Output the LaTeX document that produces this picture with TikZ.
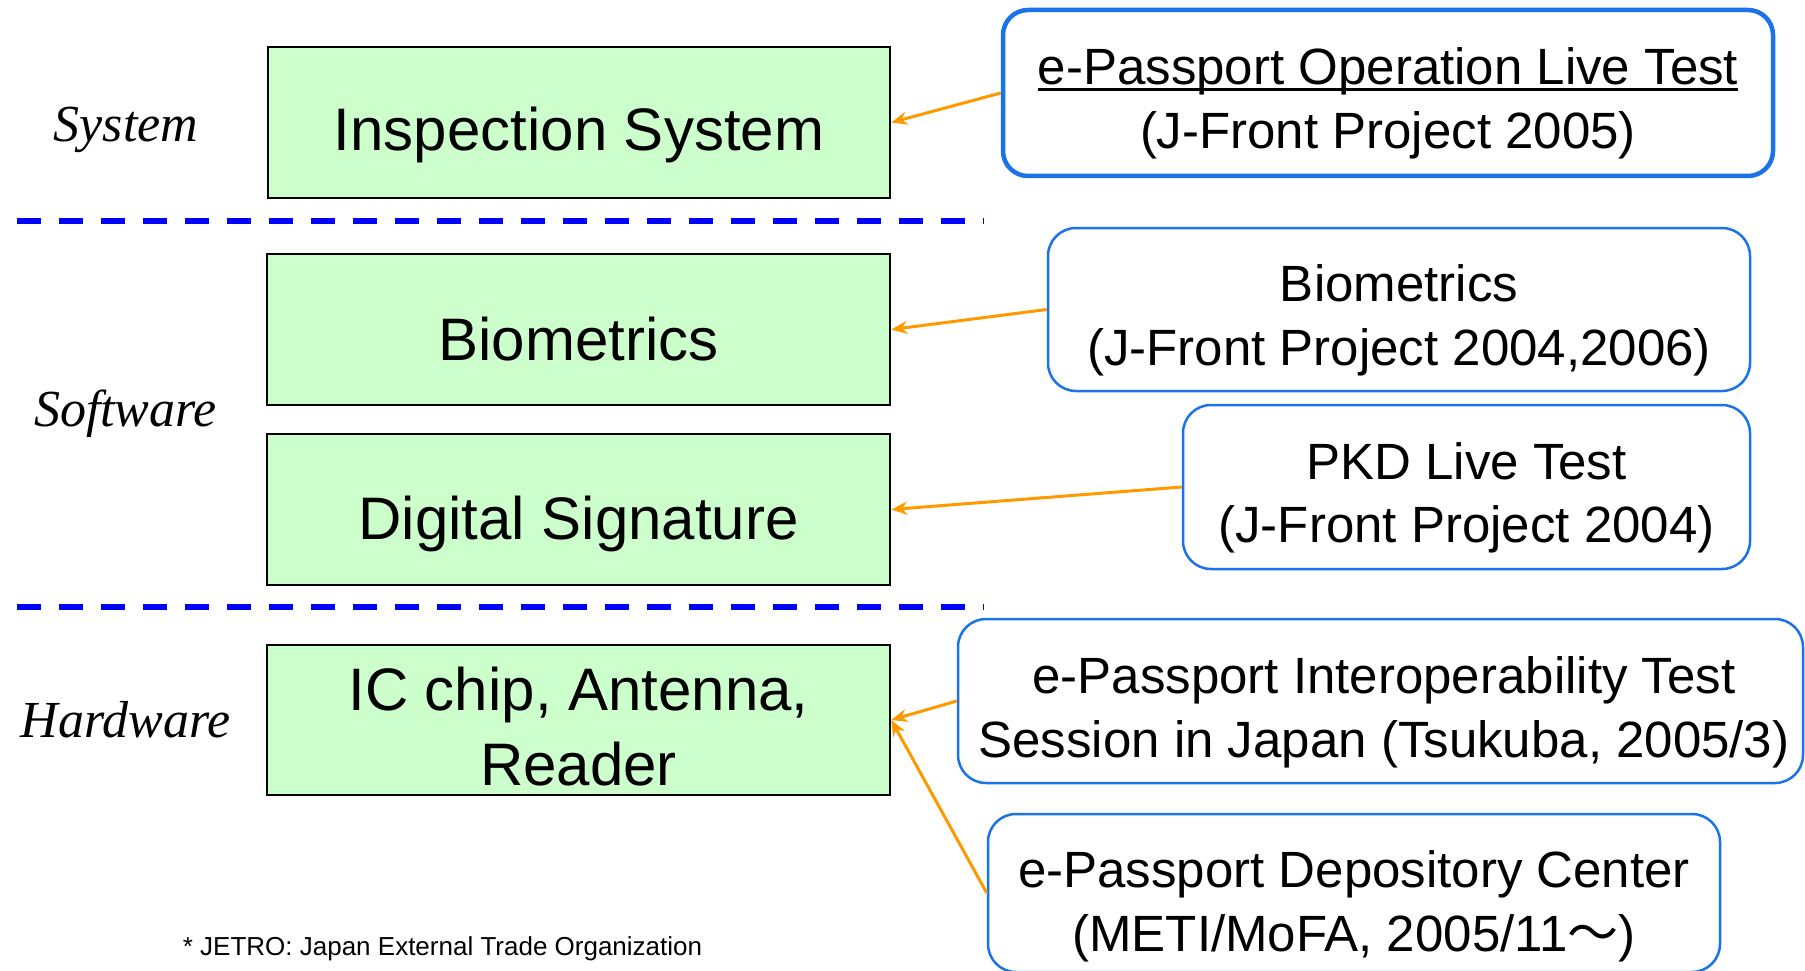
\documentclass[tikz,border=0pt]{standalone}
\usepackage{fontspec}
\setmainfont{Liberation Sans}
\newfontfamily\labelfont{Liberation Serif}
\newfontfamily\cjkfont{Noto Sans CJK JP}
\usetikzlibrary{arrows.meta}
\definecolor{gfill}{RGB}{204,255,204}
\definecolor{rblue}{RGB}{26,115,232}
\definecolor{dblue}{RGB}{0,0,255}
\definecolor{aorange}{RGB}{255,153,0}
\newcommand\ulline[1]{\setbox0\hbox{#1}\rlap{\rule[-6.5pt]{\wd0}{3pt}}\box0}
\begin{document}
\begin{tikzpicture}[x=1pt,y=-1pt,
 gbox/.style={draw=black, line width=2.5pt, fill=gfill, inner sep=0pt},
 gtext/.style={font=\fontsize{60}{75}\selectfont, inner sep=0pt, align=center},
 rbox/.style={draw=rblue, line width=2.5pt, fill=white, rounded corners=28pt, inner sep=0pt},
 rtext/.style={font=\fontsize{51}{63.5}\selectfont, inner sep=0pt, align=center},
 lab/.style={font=\fontsize{52}{60}\selectfont\labelfont\itshape, inner sep=0pt, anchor=base},
 sep/.style={draw=dblue, line width=6pt, dash pattern=on 24pt off 18pt},
 conn/.style={draw=aorange, line width=3pt, -{Stealth[length=16pt,width=13pt]}},
]
\useasboundingbox[fill=white] (0,0) rectangle (1805,971);

% separators
\coordinate (s1a) at (17,221); \coordinate (s1b) at (984,221);
\coordinate (s2a) at (17,607); \coordinate (s2b) at (984,607);
\draw[sep] (s1a) -- (s1b);
\draw[sep] (s2a) -- (s2b);

% layer labels
\node[lab] (lsys) at (126,141.5) {System};
\node[lab] (lsoft) at (125.5,426) {Software};
\node[lab] (lhard) at (125.5,737) {Hardware};

% green boxes
\node[gbox, minimum width=622pt, minimum height=151pt] (insp) at (579,122.5) {};
\node[gbox, minimum width=623pt, minimum height=151pt] (bio) at (578.5,329.5) {};
\node[gbox, minimum width=623pt, minimum height=151pt] (dig) at (578.5,509.5) {};
\node[gbox, minimum width=623pt, minimum height=150pt] (ic) at (578.5,720) {};
\node[gtext, anchor=base] (insptext) at (579,151) {Inspection System};
\node[gtext, anchor=base] (biotext) at (578.5,360) {Biometrics};
\node[gtext, anchor=base] (digtext) at (578.5,539) {Digital Signature};
\node[gtext] (ictext) at (578.5,726.5) {IC chip, Antenna,\\Reader};

% right boxes
\node[rbox, line width=4.5pt, rounded corners=25pt, minimum width=770pt, minimum height=166pt] (ops) at (1388,93) {};
\node[rbox, minimum width=702pt, minimum height=163pt] (biom) at (1399,309.5) {};
\node[rbox, minimum width=567pt, minimum height=164pt] (pkd) at (1466.5,487) {};
\node[rbox, minimum width=845pt, minimum height=164pt] (interop) at (1380.5,701) {};
\node[rbox, minimum width=732pt, minimum height=158pt] (depo) at (1354,893) {};

\node[rtext] (opstext) at (1388,103.5) {\ulline{e-Passport Operation Live Test}\\(J-Front Project 2005)};
\node[rtext] (biomtext) at (1399,320.5) {Biometrics\\(J-Front Project 2004,2006)};
\node[rtext] (pkdtext) at (1466.5,497.8) {PKD Live Test\\(J-Front Project 2004)};
\node[rtext] (interoptext) at (1384,712.5) {e-Passport Interoperability Test\\Session in Japan (Tsukuba, 2005/3)};
\node[rtext] (depotext) at (1354,906.5) {e-Passport Depository Center\\(METI/MoFA, 2005/11{\cjkfont ～})};

% connectors
\draw[conn] (ops.west) -- (insp.east);
\draw[conn] (biom.west) -- (bio.east);
\draw[conn] (pkd.west) -- (dig.east);
\draw[conn] (interop.west) -- (ic.east);
\draw[conn] (depo.west) -- (ic.east);

% footnote
\node[inner sep=0pt, anchor=base, font=\fontsize{26}{30}\selectfont] (foot) at (442.5,955) {* JETRO: Japan External Trade Organization};
\end{tikzpicture}
\end{document}
